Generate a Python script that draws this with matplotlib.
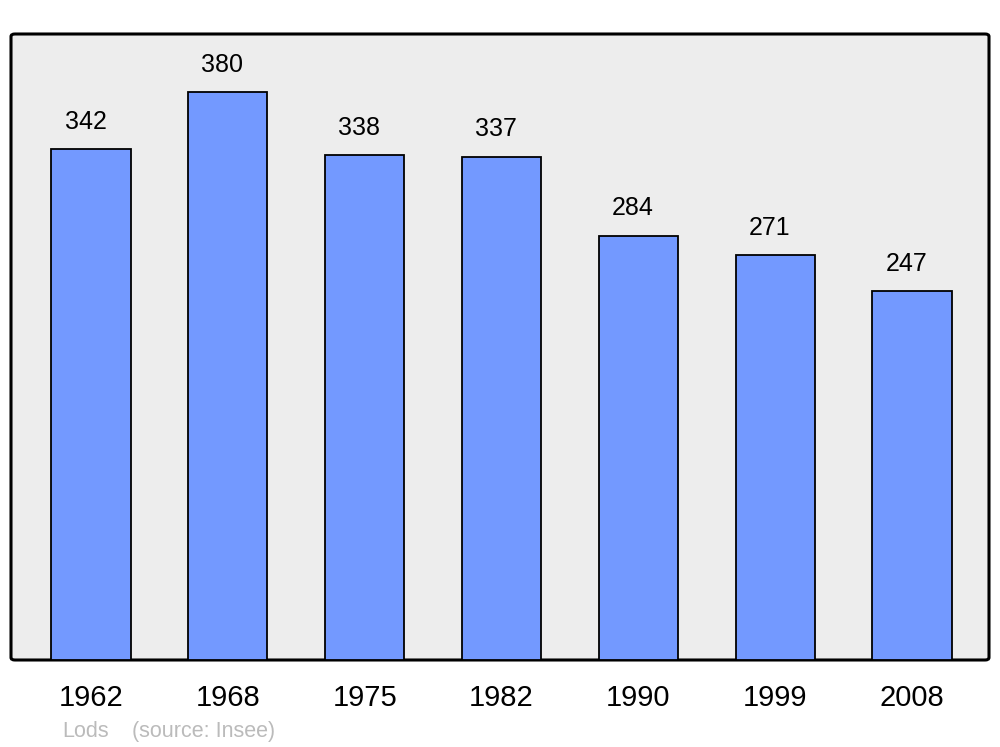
import matplotlib.pyplot as plt
from matplotlib.patches import FancyBboxPatch

# population of Lods by census year
years = ['1962', '1968', '1975', '1982', '1990', '1999', '2008']
population = [342, 380, 338, 337, 284, 271, 247]

plt.rcParams['font.family'] = ['Liberation Sans', 'DejaVu Sans']

fig = plt.figure(figsize=(10, 7.47), dpi=100)
ax = fig.add_axes([0.011, 1 - 660 / 747, 0.978, 626 / 747])

x = list(range(len(years)))
bars = ax.bar(x, population, width=0.578, color='#7399ff', edgecolor='black',
              linewidth=1.3, zorder=2)

for xi, v in zip(x, population):
    ax.annotate(str(v), (xi, v), xytext=(-4, 11), textcoords='offset points',
                ha='center', va='bottom', fontsize=18)

ax.set_xlim(-0.585, 6.563)
ax.set_ylim(0, 419)
ax.set_facecolor('none')
for s in ax.spines.values():
    s.set_visible(False)
ax.set_yticks([])
ax.set_xticks(x)
ax.set_xticklabels(years, fontsize=21)
ax.tick_params(axis='x', length=0, pad=17)

# rounded grey frame behind the bars
frame = FancyBboxPatch((0, 0), 1, 1, boxstyle='round,pad=0,rounding_size=0.004',
                       transform=ax.transAxes, facecolor='#ededed',
                       edgecolor='black', linewidth=2.2, zorder=0, clip_on=False)
ax.add_patch(frame)

fig.text(0.062, 1 - 737 / 747, 'Lods', color='#bbbbbb', fontsize=15.5, va='baseline')
fig.text(0.132, 1 - 737 / 747, '(source: Insee)', color='#bbbbbb', fontsize=15.5,
         va='baseline')

fig.savefig('out.png', dpi=100)
